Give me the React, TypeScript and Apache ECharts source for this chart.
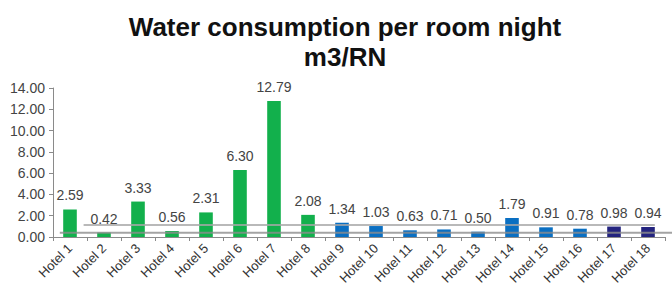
import React, { useEffect, useRef } from "react";
import * as echarts from "echarts";

const categories = [
  "Hotel 1", "Hotel 2", "Hotel 3", "Hotel 4", "Hotel 5", "Hotel 6",
  "Hotel 7", "Hotel 8", "Hotel 9", "Hotel 10", "Hotel 11", "Hotel 12",
  "Hotel 13", "Hotel 14", "Hotel 15", "Hotel 16", "Hotel 17", "Hotel 18",
];
const values = [
  2.59, 0.42, 3.33, 0.56, 2.31, 6.3, 12.79, 2.08, 1.34, 1.03, 0.63, 0.71,
  0.5, 1.79, 0.91, 0.78, 0.98, 0.94,
];
const groups = [
  "green", "green", "green", "green", "green", "green", "green", "green",
  "blue", "blue", "blue", "blue", "blue", "blue", "blue", "blue",
  "navy", "navy",
];
const groupColors: Record<string, string> = {
  green: "#12B04C",
  blue: "#0A6FC2",
  navy: "#23237E",
};
const refLines = [0.4, 1.13];

export default function App() {
  const ref = useRef<HTMLDivElement>(null);
  useEffect(() => {
    if (!ref.current) return;
    document.body.style.margin = "0";
    const chart = echarts.init(ref.current, null, { renderer: "svg" });
    chart.setOption({
      animation: false,
      title: {
        text: "Water consumption per room night\nm3/RN",
        left: 340,
        textAlign: "center",
        top: 7,
        textStyle: {
          fontFamily: "Liberation Sans",
          fontWeight: "bold",
          fontSize: 26,
          lineHeight: 30,
          color: "#111",
        },
      },
      grid: { left: 53, right: 7, top: 88, bottom: 65 },
      xAxis: {
        type: "category",
        data: categories,
        axisLine: { lineStyle: { color: "#8a8a8a", width: 1 } },
        axisTick: { show: true, length: 4, alignWithLabel: false, lineStyle: { color: "#8a8a8a" } },
        axisLabel: {
          rotate: 45,
          interval: 0,
          margin: 9,
          fontFamily: "Liberation Sans",
          fontSize: 13,
          color: "#333",
        },
      },
      yAxis: {
        type: "value",
        min: 0,
        max: 14,
        interval: 2,
        splitLine: { show: false },
        axisLine: { show: true, lineStyle: { color: "#8a8a8a" } },
        axisTick: { show: true, length: 4, lineStyle: { color: "#8a8a8a" } },
        axisLabel: {
          formatter: (v: number) => v.toFixed(2),
          fontFamily: "Liberation Sans",
          fontSize: 14,
          color: "#444",
          margin: 8,
        },
      },
      series: [
        {
          type: "bar",
          barWidth: "40%",
          data: values.map((v, i) => ({
            value: v,
            itemStyle: { color: groupColors[groups[i]] },
          })),
          label: {
            show: true,
            position: "top",
            distance: 7,
            formatter: (p: any) => Number(p.value).toFixed(2),
            fontFamily: "Liberation Sans",
            fontSize: 14,
            color: "#444",
          },
        },
      ],
    });
    const p0 = chart.convertToPixel({ gridIndex: 0 }, [0, refLines[0]]) as number[];
    const p1 = chart.convertToPixel({ gridIndex: 0 }, [0, refLines[1]]) as number[];
    const pEnd = chart.convertToPixel({ gridIndex: 0 }, [categories.length - 1, 0]) as number[];
    const band = (pEnd[0] - p0[0]) / (categories.length - 1);
    chart.setOption({
      graphic: [
        {
          type: "line",
          silent: true,
          z: 10,
          shape: { x1: p0[0] - band * 0.3, y1: p0[1], x2: 672, y2: p0[1] },
          style: { stroke: "#8c8c8c", lineWidth: 2, opacity: 0.8 },
        },
        {
          type: "line",
          silent: true,
          z: 10,
          shape: { x1: p1[0] + band * 0.4, y1: p1[1], x2: pEnd[0] + band * 0.2, y2: p1[1] },
          style: { stroke: "#a8a8a8", lineWidth: 2, opacity: 0.8 },
        },
      ],
    });
    return () => chart.dispose();
  }, []);
  return <div ref={ref} style={{ width: 672, height: 302 }} />;
}
